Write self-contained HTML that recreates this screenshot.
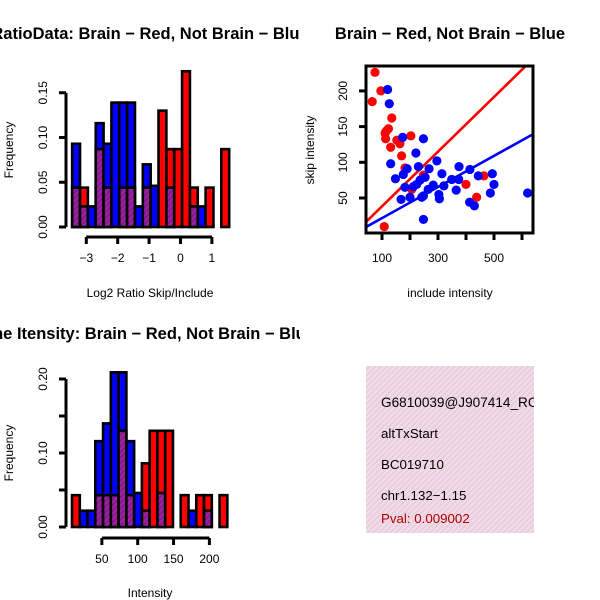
<!DOCTYPE html>
<html><head><meta charset="utf-8"><style>
html,body{margin:0;padding:0;background:#fff;}
svg{display:block;font-family:"Liberation Sans",sans-serif;}
</style></head><body>
<svg id="chart" width="600" height="600" viewBox="0 0 600 600">
<defs>
<pattern id="hatch" width="4" height="4" patternUnits="userSpaceOnUse" patternTransform="rotate(45)">
<rect width="4" height="4" fill="#a020a0"/><rect width="1.5" height="4" fill="#7a1a8a"/>
</pattern>
<pattern id="pinkhatch" width="4" height="4" patternUnits="userSpaceOnUse" patternTransform="rotate(45)">
<rect width="4" height="4" fill="#f6d6f0"/><rect width="1.3" height="4" fill="#dcd2c8"/>
</pattern>
<clipPath id="scClip"><rect x="366" y="66" width="167" height="167"/></clipPath>
<clipPath id="leftClip"><rect x="0" y="0" width="300" height="600"/></clipPath>
</defs>
<g id="h1"></g>
<g id="h2"></g>
<g id="sc"></g>
<g>
<rect x="366" y="366" width="168" height="167" fill="url(#pinkhatch)"/>
<svg x="366" y="366" width="168" height="167">
<text x="15" y="41" font-size="13.6">G6810039@J907414_RC</text>
</svg>
<text x="381" y="438" font-size="13.3">altTxStart</text>
<text x="381" y="469" font-size="13.3">BC019710</text>
<text x="381" y="500" font-size="13.3">chr1.132−1.15</text>
<text x="381" y="523" font-size="13.3" fill="#b00000">Pval: 0.009002</text>
</g>
</svg>
<script>
// Histogram 1 data (bin width 0.25 in log2 units)
const h1Start = -3.45;
const h1Step = 0.25;
const h1Blue = [0.093,0.023,0.023,0.116,0.093,0.139,0.139,0.139,0.023,0.070,0.046,0,0.044,0,0,0.023,0.023,0,0,0];
const h1Red  = [0.044,0.044,0,0.087,0.044,0,0.044,0.044,0,0.044,0,0.130,0.087,0.087,0.174,0.044,0,0.044,0,0.087];
const h1YTicks = [0,0.05,0.10,0.15];
const h1YLabels = ["0.00","0.05","0.10","0.15"];
const h1XTicks = [-3,-2,-1,0,1];
const h1XLabels = ["−3","−2","−1","0","1"];
// Histogram 2 data
const h2Start = 8.4;
const h2Step = 10.83;
const h2Blue = [0,0.022,0.022,0.116,0.14,0.209,0.209,0.116,0.046,0.022,0,0.046,0,0,0,0.022,0,0.022,0,0];
const h2Red  = [0.043,0,0,0.043,0.043,0.043,0.13,0.043,0,0.086,0.13,0.13,0.13,0,0.043,0,0.043,0.043,0,0.043];
const h2YTicks = [0,0.05,0.10,0.15,0.20];
const h2YLabels = ["0.00","","0.10","","0.20"];
const h2XTicks = [50,100,150,200];
// Scatter data
const redX = [75,96,65,135,123,111,116,113,153,203,131,164,170,182,206,248,400,464,438,108];
const redY = [226,200,185,162,147,141,144,133,131,137,121,126,109,92,62,82,69,81,51,10];
const blueX = [120,126,174,248,221,131,190,230,268,296,314,375,414,444,494,500,487,620,413,430,365,321,303,305,283,265,248,242,200,168,148,176,182,212,236,254,349,374,248,224];
const blueY = [202,182,135,133,113,98,91,94,91,102,84,94,90,81,84,69,57,57,44,39,61,67,55,49,68,62,53,51,51,48,77,83,65,66,75,79,76,76,20,69];
const redSlope = 0.383, blueSlope = 0.218;
const scXTicks = [100,200,300,400,500,600];
const scXLabels = ["100","","300","","500",""];
const scYTicks = [50,100,150,200];

const NS="http://www.w3.org/2000/svg";
function mk(parent,tag,attrs,text){const e=document.createElementNS(NS,tag);for(const k in attrs)e.setAttribute(k,attrs[k]);if(text!==undefined)e.textContent=text;parent.appendChild(e);return e;}

function hist(g,start,step,blue,red,xs,ys,yt,yl,xt,xl,axY,axX,title,titleX,titleY,xlab,xlabY,ylabY){
  for(let i=0;i<blue.length;i++){
    const x0=xs(start+i*step),x1=xs(start+(i+1)*step);
    const b=blue[i],r=red[i];
    const hi=Math.max(b,r),lo=Math.min(b,r);
    if(hi>0){
      const r1=mk(g,'rect',{x:x0,y:ys(hi),width:x1-x0,height:ys(0)-ys(hi),fill:b>=r?'#0000ff':'#ff0000',stroke:'#000','stroke-width':2.6});
      
      
    }
    if(lo>0){
      const r2=mk(g,'rect',{x:x0,y:ys(lo),width:x1-x0,height:ys(0)-ys(lo),fill:'url(#hatch)',stroke:'#000','stroke-width':2.6});
      
      
    }
  }
  mk(g,'line',{x1:axX,x2:axX,y1:ys(yt[0]),y2:ys(yt[yt.length-1]),stroke:'#000','stroke-width':3});
  yt.forEach((t,i)=>{mk(g,'line',{x1:axX,x2:axX-7,y1:ys(t),y2:ys(t),stroke:'#000','stroke-width':3});
    if(yl[i]){const tx=mk(g,'text',{x:axX-19,y:ys(t),'font-size':12,'text-anchor':'middle',transform:`rotate(-90 ${axX-19} ${ys(t)})`},yl[i]);
    }});
  mk(g,'line',{x1:xs(xt[0]),x2:xs(xt[xt.length-1]),y1:axY,y2:axY,stroke:'#000','stroke-width':3});
  xt.forEach((t,i)=>{mk(g,'line',{x1:xs(t),x2:xs(t),y1:axY,y2:axY+7,stroke:'#000','stroke-width':3});
    const tx=mk(g,'text',{x:xs(t),y:axY+25,'font-size':12,'text-anchor':'middle'},xl[i]);
    });
  const tt=mk(g,'text',{x:titleX,y:titleY,'font-size':16.5,'font-weight':'bold','text-anchor':'middle','clip-path':'url(#leftClip)'},title);
  
  const xl2=mk(g,'text',{x:150,y:xlabY,'font-size':12,'text-anchor':'middle'},xlab);
  
  const yl2=mk(g,'text',{x:13,y:ylabY,'font-size':12,'text-anchor':'middle',transform:`rotate(-90 13 ${ylabY})`},'Frequency');
  
}

const g1=document.getElementById('h1');
hist(g1,h1Start,h1Step,h1Blue,h1Red,v=>180.5+31.4*v,v=>227-895*v,h1YTicks,h1YLabels,h1XTicks,h1XLabels,237,66,
  'RatioData: Brain − Red, Not Brain − Blue',150,39,'Log2 Ratio Skip/Include',297,150);
const g2=document.getElementById('h2');
hist(g2,h2Start,h2Step,h2Blue,h2Red,v=>66+0.717*v,v=>527-740*v,h2YTicks,h2YLabels,h2XTicks,h2XTicks.map(String),538,66,
  'Gene Itensity: Brain − Red, Not Brain − Blue',143,339,'Intensity',597,453);

// Scatter
const sc=document.getElementById('sc');
const sx=v=>354+0.28*v, sy=v=>233.7-0.714*v;
const pts=mk(sc,'g',{'clip-path':'url(#scClip)'});
const lr=mk(pts,'line',{x1:sx(0),y1:sy(0),x2:sx(700),y2:sy(700*redSlope),stroke:'#ff0000','stroke-width':2.6});

const lb=mk(pts,'line',{x1:sx(0),y1:sy(0),x2:sx(700),y2:sy(700*blueSlope),stroke:'#0000ff','stroke-width':2.6});

redX.forEach((x,i)=>{const c=mk(pts,'circle',{cx:sx(x),cy:sy(redY[i]),r:4.6,fill:'#ff0000'});
  });
blueX.forEach((x,i)=>{const c=mk(pts,'circle',{cx:sx(x),cy:sy(blueY[i]),r:4.6,fill:'#0000ff'});
  });
const fr=mk(sc,'rect',{x:366,y:66,width:167,height:167,fill:'none',stroke:'#000','stroke-width':3});

scXTicks.forEach((t,i)=>{mk(sc,'line',{x1:sx(t),x2:sx(t),y1:233,y2:240,stroke:'#000','stroke-width':3});
  if(scXLabels[i]){const tx=mk(sc,'text',{x:sx(t),y:262,'font-size':12,'text-anchor':'middle'},scXLabels[i]);
  }});
scYTicks.forEach(t=>{mk(sc,'line',{x1:366,x2:359,y1:sy(t),y2:sy(t),stroke:'#000','stroke-width':3});
  const tx=mk(sc,'text',{x:347,y:sy(t),'font-size':12,'text-anchor':'middle',transform:`rotate(-90 347 ${sy(t)})`},String(t));
  });
const st=mk(sc,'text',{x:450,y:39,'font-size':16.5,'font-weight':'bold','text-anchor':'middle'},'Brain − Red, Not Brain − Blue');

const sxl=mk(sc,'text',{x:450,y:297,'font-size':12,'text-anchor':'middle'},'include intensity');

const syl=mk(sc,'text',{x:314,y:150,'font-size':12,'text-anchor':'middle',transform:'rotate(-90 314 150)'},'skip intensity');

</script>
</body></html>
